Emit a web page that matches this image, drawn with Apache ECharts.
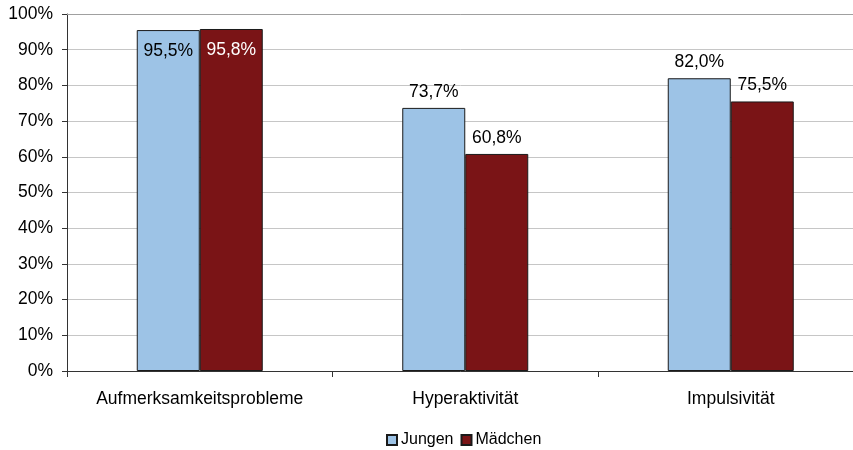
<!DOCTYPE html>
<html>
<head>
<meta charset="utf-8">
<script src="https://cdn.jsdelivr.net/npm/echarts@6/dist/echarts.min.js"></script>
<style>
  html, body { margin: 0; padding: 0; background: #ffffff; }
  #chart { width: 853px; height: 450px; }
</style>
</head>
<body>
<div id="chart"></div>
<script>
// Symptom categories on the x axis
const categories = ['Aufmerksamkeitsprobleme', 'Hyperaktivität', 'Impulsivität'];
// Share per group, in percent
const jungen = [95.5, 73.7, 82.0];
const maedchen = [95.8, 60.8, 75.5];
// Y axis ticks
const yTicks = [0, 10, 20, 30, 40, 50, 60, 70, 80, 90, 100];

const FONT = '"Liberation Sans", Arial, sans-serif';
const fmt = v => v.toFixed(1).replace('.', ',') + '%';

// Bars that reach the top of the axis carry their label inside
function barData(values, insideColor) {
  return values.map(v => {
    const inside = v > 90;
    return {
      value: v,
      label: {
        position: inside ? 'insideTop' : 'top',
        distance: inside ? 12 : 7,
        color: inside ? insideColor : '#000000'
      }
    };
  });
}

const chart = echarts.init(document.getElementById('chart'), null, { renderer: 'canvas' });

const labelBase = {
  show: true,
  fontFamily: FONT,
  fontSize: 17.5,
  formatter: p => fmt(p.value)
};

chart.setOption({
  animation: false,
  backgroundColor: '#ffffff',
  textStyle: { fontFamily: FONT },
  // the plot area runs a little past the right edge of the canvas
  grid: {
    left: 67, width: 796.5, top: 14, height: 357,
    containLabel: false, outerBoundsMode: 'none'
  },
  legend: {
    data: ['Jungen', 'Mädchen'],
    left: 381,
    top: 427,
    itemWidth: 10,
    itemHeight: 10,
    itemGap: 7,
    icon: 'rect',
    textStyle: { fontFamily: FONT, fontSize: 16, color: '#000000', padding: [0, 0, 0, -1] }
  },
  xAxis: [
    {
      type: 'category',
      data: categories,
      axisLine: { lineStyle: { color: '#333333', width: 1 } },
      axisTick: { show: true, length: 6, lineStyle: { color: '#333333' } },
      axisLabel: {
        fontFamily: FONT, fontSize: 17.5, color: '#000000', margin: 19,
        interval: 0, hideOverlap: false
      },
      splitLine: { show: false }
    },
    {
      // upper frame line of the plot area
      type: 'category',
      position: 'top',
      data: categories,
      axisLine: { show: true, lineStyle: { color: '#a0a0a0', width: 1 } },
      axisTick: { show: false },
      axisLabel: { show: false },
      splitLine: { show: false }
    }
  ],
  yAxis: {
    type: 'value',
    min: yTicks[0],
    max: yTicks[yTicks.length - 1],
    interval: yTicks[1] - yTicks[0],
    axisLine: { show: true, lineStyle: { color: '#333333', width: 1 } },
    axisTick: { show: true, length: 5, lineStyle: { color: '#333333' } },
    axisLabel: {
      fontFamily: FONT, fontSize: 17.5, color: '#000000', margin: 14,
      formatter: '{value}%'
    },
    splitLine: { show: true, lineStyle: { color: '#c6c6c6', width: 1 } }
  },
  series: [
    {
      name: 'Jungen',
      type: 'bar',
      barWidth: 63,
      barGap: '0%',
      data: barData(jungen, '#000000'),
      itemStyle: { color: '#9dc3e6', borderColor: '#1a1a1a', borderWidth: 1 },
      label: labelBase
    },
    {
      name: 'Mädchen',
      type: 'bar',
      barWidth: 63,
      barGap: '0%',
      data: barData(maedchen, '#ffffff'),
      itemStyle: { color: '#7a1416', borderColor: '#1a1a1a', borderWidth: 1 },
      label: labelBase
    }
  ]
});
</script>
</body>
</html>
